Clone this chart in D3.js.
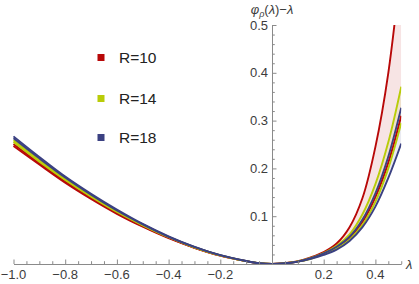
<!DOCTYPE html>
<html>
<head>
<meta charset="utf-8">
<script src="https://cdn.jsdelivr.net/npm/d3@7"></script>
<style>
  body { margin: 0; background: #fff; }
  svg { display: block; font-family: "Liberation Sans", Arial, sans-serif; }
</style>
</head>
<body>
<svg id="chart"></svg>
<script>
// lambda grid (x values)
const lambdaVals = [-1, -0.9, -0.8, -0.7, -0.6, -0.5, -0.4, -0.3, -0.2, -0.1, -0.05, 0,
                    0.05, 0.1, 0.15, 0.2, 0.25, 0.3, 0.35, 0.4, 0.45, 0.5];

// each R gives a band: upper and lower curve of phi_rho(lambda) - lambda
const r10Upper = [0.251, 0.211, 0.173, 0.139, 0.107, 0.079, 0.055, 0.034, 0.0175, 0.006, 0.0015, 0,
                  0.002, 0.006, 0.014, 0.025, 0.043, 0.077, 0.138, 0.245, 0.40, 0.63];
const r10Lower = [0.247, 0.208, 0.170, 0.136, 0.105, 0.078, 0.054, 0.034, 0.0175, 0.006, 0.0015, 0,
                  0.0015, 0.005, 0.012, 0.022, 0.035, 0.055, 0.088, 0.140, 0.212, 0.310];
const r14Upper = [0.259, 0.218, 0.178, 0.143, 0.111, 0.082, 0.057, 0.035, 0.018, 0.006, 0.0015, 0,
                  0.0015, 0.0055, 0.013, 0.023, 0.038, 0.062, 0.104, 0.167, 0.255, 0.371];
const r14Lower = [0.255, 0.214, 0.176, 0.141, 0.109, 0.081, 0.056, 0.035, 0.018, 0.006, 0.0015, 0,
                  0.0012, 0.005, 0.011, 0.021, 0.033, 0.051, 0.082, 0.130, 0.200, 0.295];
const r18Upper = [0.267, 0.224, 0.183, 0.147, 0.114, 0.084, 0.058, 0.036, 0.0185, 0.0062, 0.0015, 0,
                  0.0015, 0.005, 0.012, 0.022, 0.036, 0.057, 0.093, 0.148, 0.225, 0.327];
const r18Lower = [0.263, 0.221, 0.181, 0.145, 0.112, 0.083, 0.057, 0.036, 0.0185, 0.0062, 0.0015, 0,
                  0.001, 0.005, 0.011, 0.019, 0.030, 0.048, 0.077, 0.120, 0.180, 0.252];

const seriesNames = ["R=10", "R=14", "R=18"];
const seriesColors = ["#b80808", "#b9cc08", "#3b4182"];

const xTickLabels = [-1.0, -0.8, -0.6, -0.4, -0.2, 0.2, 0.4];
const yTickLabels = [0.1, 0.2, 0.3, 0.4, 0.5];

// build band table
const bands = [
    { name: seriesNames[0], color: seriesColors[0], upper: r10Upper, lower: r10Lower },
    { name: seriesNames[1], color: seriesColors[1], upper: r14Upper, lower: r14Lower },
    { name: seriesNames[2], color: seriesColors[2], upper: r18Upper, lower: r18Lower }
].map(b => ({
    ...b,
    pts: lambdaVals.map((l, i) => ({ x: l, hi: b.upper[i], lo: b.lower[i] }))
}));

var w = 419;
var h = 284;

var svg = d3.select("#chart")
    .attr("width", w)
    .attr("height", h);

var xScale = d3.scaleLinear().domain([-1, 0.5]).range([13.5, 401.25]);
var yScale = d3.scaleLinear().domain([0, 0.5]).range([264, 25]);

svg.append("defs").append("clipPath")
    .attr("id", "plotClip")
    .append("rect")
    .attr("x", xScale(-1) - 4)
    .attr("y", yScale(0.5))
    .attr("width", xScale(0.5) - xScale(-1) + 4)
    .attr("height", yScale(0) - yScale(0.5) + 3);

const plot = svg.append("g").attr("clip-path", "url(#plotClip)");

const curve = d3.curveCatmullRom.alpha(0.5);

// pale fill between upper and lower curve of each R
const area = d3.area()
    .x(d => xScale(d.x))
    .y0(d => yScale(d.lo))
    .y1(d => yScale(d.hi))
    .curve(curve);

plot.selectAll("path.band")
    .data(bands)
    .join("path")
    .attr("class", "band")
    .attr("d", d => area(d.pts))
    .attr("fill", d => d.color)
    .attr("fill-opacity", 0.11)
    .attr("stroke", "none");

const lineHi = d3.line().x(d => xScale(d.x)).y(d => yScale(d.hi)).curve(curve);
const lineLo = d3.line().x(d => xScale(d.x)).y(d => yScale(d.lo)).curve(curve);

bands.forEach(b => {
    plot.append("path")
        .attr("d", lineHi(b.pts))
        .attr("fill", "none")
        .attr("stroke", b.color)
        .attr("stroke-width", 1.9);
    plot.append("path")
        .attr("d", lineLo(b.pts))
        .attr("fill", "none")
        .attr("stroke", b.color)
        .attr("stroke-width", 1.9);
});

// axes, Mathematica style: ticks point into the plot
const axisColor = "#8a8a8a";
const labelColor = "#3c3c3c";

let xAxis = g => g
    .attr("transform", `translate(0,${yScale(0)})`)
    .call(d3.axisTop(xScale)
        .tickValues(d3.range(-1, 0.5001, 0.05).map(v => +v.toFixed(2)).filter(v => v !== 0))
        .tickSizeOuter(0)
        .tickFormat(""))
    .call(g => g.select(".domain").attr("stroke", axisColor))
    .call(g => g.selectAll(".tick line")
        .attr("stroke", axisColor)
        .attr("y2", d => Math.abs(Math.round(d * 100)) % 20 === 0 ? -4.5 : -2.8));

svg.append("g").call(xAxis);

svg.append("g")
    .selectAll("text")
    .data(xTickLabels)
    .join("text")
    .attr("x", d => xScale(d))
    .attr("y", 279)
    .attr("text-anchor", "middle")
    .attr("fill", labelColor)
    .style("font-size", "13px")
    .text(d => d3.format(".1f")(d).replace("-", "\u2212"));

let yAxis = g => g
    .attr("transform", `translate(${xScale(0)},0)`)
    .call(d3.axisRight(yScale)
        .tickValues(d3.range(0.02, 0.5001, 0.02).map(v => +v.toFixed(2)))
        .tickSizeOuter(0)
        .tickFormat(""))
    .call(g => g.select(".domain").attr("stroke", axisColor))
    .call(g => g.selectAll(".tick line")
        .attr("stroke", axisColor)
        .attr("x2", d => Math.round(d * 100) % 10 === 0 ? 4.5 : 2.8));

svg.append("g").call(yAxis);

svg.append("g")
    .selectAll("text")
    .data(yTickLabels)
    .join("text")
    .attr("x", xScale(0) - 4)
    .attr("y", d => yScale(d) + 4.5)
    .attr("text-anchor", "end")
    .attr("fill", labelColor)
    .style("font-size", "13px")
    .text(d => d3.format(".1f")(d));

// axis labels
svg.append("text")
    .attr("x", 406)
    .attr("y", yScale(0) + 4.5)
    .attr("fill", labelColor)
    .style("font-size", "13px")
    .style("font-style", "italic")
    .text("\u03bb");

const yLab = svg.append("text")
    .attr("x", xScale(0))
    .attr("y", 14)
    .attr("text-anchor", "middle")
    .attr("fill", labelColor)
    .style("font-size", "13px");
yLab.append("tspan").style("font-style", "italic").text("\u03c6");
yLab.append("tspan").style("font-style", "italic").style("font-size", "9px").attr("dy", 3).text("\u03c1");
yLab.append("tspan").attr("dy", -3).text("(");
yLab.append("tspan").style("font-style", "italic").text("\u03bb");
yLab.append("tspan").text(")\u2212");
yLab.append("tspan").style("font-style", "italic").text("\u03bb");

// legend
const legendY = [57.5, 98.5, 137.5];
const legend = svg.append("g");
bands.forEach((b, i) => {
    legend.append("rect")
        .attr("x", 97.5)
        .attr("y", legendY[i] - 3.5)
        .attr("width", 7)
        .attr("height", 7)
        .attr("fill", b.color);
    legend.append("text")
        .attr("x", 119)
        .attr("y", legendY[i] + 5.5)
        .attr("fill", "#222")
        .style("font-size", "15.5px")
        .text(b.name);
});
</script>
</body>
</html>
